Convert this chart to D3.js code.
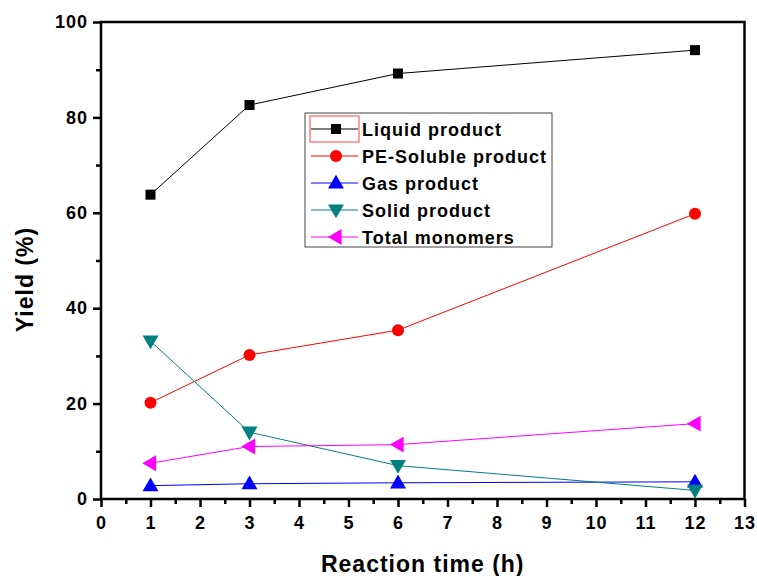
<html>
<head>
	<meta charset='utf-8' />
	<title>Yield vs reaction time</title>
	<script src="https://cdn.jsdelivr.net/npm/d3@7"></script>
	<style>
	body { margin:0; background:#fff; }
	text { font-family: Arial, "Liberation Sans", sans-serif; font-weight: bold; }
	</style>
</head>
<body>
<script>

	var times = [1, 3, 6, 12];
	var liquid = [63.8, 82.6, 89.2, 94.1];
	var peSoluble = [20.2, 30.2, 35.4, 59.8];
	var gas = [2.8, 3.2, 3.4, 3.6];
	var solid = [33.1, 14.0, 7.0, 1.8];
	var monomers = [7.5, 11.0, 11.4, 15.8];

	var seriesNames = ["Liquid product","PE-Soluble product","Gas product","Solid product","Total monomers"];
	var seriesColors = ["#000000","#ff0000","#0000ff","#008080","#ff00ff"];
	var seriesSymbols = ["square","circle","up","down","left"];
	var xTicks = d3.range(0, 14);
	var yTicks = [0, 20, 40, 60, 80, 100];

	var margin = {top: 22, right: 12.5, bottom: 77, left: 101};
	var width = 757 - margin.left - margin.right,
	    height = 576 - margin.top - margin.bottom;

	var series = [liquid, peSoluble, gas, solid, monomers].map(function(vals, i) {
		return {name: seriesNames[i], color: seriesColors[i], sym: seriesSymbols[i],
			values: vals.map(function(v, j) { return {t: times[j], y: v}; })};
	});

	var base = d3.select("body").append("svg")
		.attr("width", 757).attr("height", 576);
	var svg = base.append("g").attr("transform", "translate(" + margin.left + "," + margin.top + ")");

	var xScale = d3.scaleLinear().domain([0, 13]).range([0, width]);
	var yScale = d3.scaleLinear().domain([0, 100]).range([height, 0]);

	// marker drawer
	var marker = function(sel, sym, color) {
		if (sym == "circle") {
			sel.append("circle").attr("r", 6).attr("fill", color);
		} else if (sym == "square") {
			sel.append("rect").attr("x", -5).attr("y", -5).attr("width", 10).attr("height", 10).attr("fill", color);
		} else {
			var rot = {up: 0, down: 180, left: 270}[sym];
			sel.append("path").attr("d", d3.symbol().type(d3.symbolTriangle).size(110)())
				.attr("transform", "rotate(" + rot + ") translate(0,1)")
				.attr("fill", color);
		}
	};

	var line = d3.line()
		.x(function(d) { return xScale(d.t); })
		.y(function(d) { return yScale(d.y); });

	series.forEach(function(s) {
		svg.append("path")
			.datum(s.values)
			.attr("fill", "none")
			.attr("stroke", s.color)
			.attr("stroke-width", 1)
			.attr("d", line);
	});
	series.forEach(function(s) {
		s.values.forEach(function(d) {
			var g = svg.append("g").attr("transform", "translate(" + xScale(d.t) + "," + yScale(d.y) + ")");
			marker(g, s.sym, s.color);
		});
	});

	// axes
	svg.append("g")
		.attr("transform", "translate(0," + height + ")")
		.call(d3.axisBottom(xScale).tickValues(xTicks).tickFormat(d3.format("d")).tickSize(8).tickPadding(9));
	svg.append("g")
		.attr("transform", "translate(0," + height + ")")
		.call(d3.axisBottom(xScale).tickValues(d3.range(0.5, 13, 1)).tickFormat("").tickSize(5))
		.select(".domain").remove();
	svg.append("g")
		.call(d3.axisLeft(yScale).tickValues(yTicks).tickSize(8).tickPadding(5));
	svg.append("g")
		.call(d3.axisLeft(yScale).tickValues(d3.range(10, 100, 20)).tickFormat("").tickSize(5))
		.select(".domain").remove();

	svg.selectAll(".tick line").attr("stroke-width", 2.5).attr("stroke", "#000");
	svg.selectAll(".domain").remove();
	svg.selectAll(".tick text").attr("font-size", "18px").attr("letter-spacing", "1px").attr("fill", "#000");

	// frame
	svg.append("rect")
		.attr("x", 0).attr("y", 0).attr("width", width).attr("height", height)
		.attr("fill", "none").attr("stroke", "#000").attr("stroke-width", 2.5);

	// axis titles
	svg.append("text")
		.attr("x", width/2).attr("y", height + 73)
		.attr("text-anchor", "middle").attr("font-size", "23px").attr("letter-spacing", "1px")
		.text("Reaction time (h)");
	svg.append("text")
		.attr("transform", "translate(" + (-68) + "," + (height/2 + 19) + ") rotate(-90)")
		.attr("text-anchor", "middle").attr("font-size", "23px").attr("letter-spacing", "1px")
		.text("Yield (%)");

	// legend
	var legend = base.append("g").attr("transform", "translate(305,113)");
	legend.append("rect").attr("width", 247).attr("height", 134)
		.attr("fill", "#fff").attr("stroke", "#444").attr("stroke-width", 1);
	legend.append("rect").attr("x", 5).attr("y", 3).attr("width", 49).attr("height", 26)
		.attr("fill", "none").attr("stroke", "#ff4040").attr("stroke-width", 1);
	series.forEach(function(s, i) {
		var row = legend.append("g").attr("transform", "translate(0," + (16 + i * 27) + ")");
		row.append("line").attr("x1", 6).attr("x2", 53).attr("y1", 0).attr("y2", 0)
			.attr("stroke", s.color).attr("stroke-width", 1);
		var m = row.append("g").attr("transform", "translate(31,0)");
		marker(m, s.sym, s.color);
		row.append("text").attr("x", 57).attr("y", 6.5).attr("font-size", "18px").attr("letter-spacing", "1px").text(s.name);
	});

</script>
</body>
</html>
